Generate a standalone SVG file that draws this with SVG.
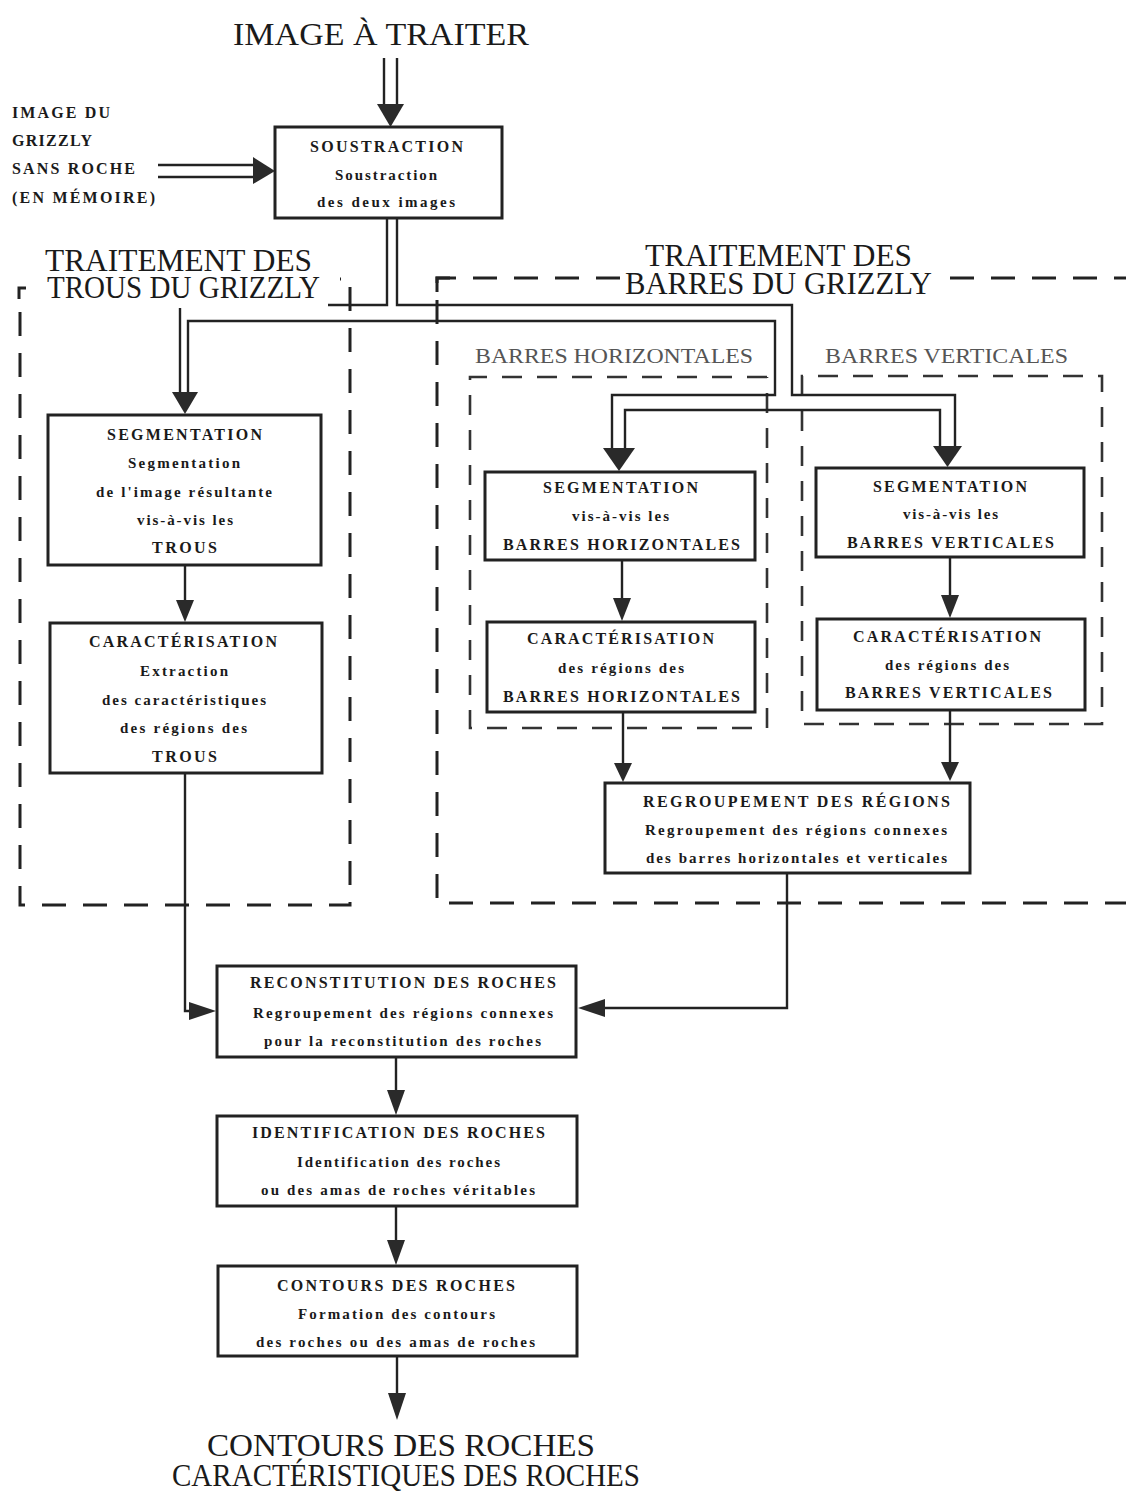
<svg xmlns="http://www.w3.org/2000/svg" width="1126" height="1494" viewBox="0 0 1126 1494">
<style>
.bg{fill:#ffffff}
.box{fill:#ffffff;stroke:#222;stroke-width:3}
.ln{fill:none;stroke:#222;stroke-width:2.4}
.ah{fill:#2a2a2a}
.dsh{fill:none;stroke:#222;stroke-width:3;stroke-dasharray:24 17}
.dsh2{fill:none;stroke:#333;stroke-width:2.6;stroke-dasharray:20 15}
.sol{fill:none;stroke:#222;stroke-width:3}
.ttl{font-family:"Liberation Serif",serif;font-size:32px;fill:#1a1a1a}
.cap{font-family:"Liberation Serif",serif;font-weight:bold;font-size:16px;fill:#1a1a1a}
.low{font-family:"Liberation Serif",serif;font-weight:bold;font-size:15px;fill:#1a1a1a}
.grey{font-family:"Liberation Serif",serif;font-size:22px;fill:#555}
</style>
<rect class="bg" x="0" y="0" width="1126" height="1494"/>

<g id="titles">
<text class="ttl" x="233" y="45" textLength="296" lengthAdjust="spacingAndGlyphs">IMAGE À TRAITER</text>
<text class="ttl" x="45" y="271" font-size="29" textLength="267" lengthAdjust="spacingAndGlyphs">TRAITEMENT DES</text>
<text class="ttl" x="47" y="298" font-size="29" textLength="273" lengthAdjust="spacingAndGlyphs">TROUS DU GRIZZLY</text>
<text class="ttl" x="645" y="266" font-size="29" textLength="267" lengthAdjust="spacingAndGlyphs">TRAITEMENT DES</text>
<text class="ttl" x="625" y="294" font-size="29" textLength="307" lengthAdjust="spacingAndGlyphs">BARRES DU GRIZZLY</text>
<text class="grey" x="475" y="363" textLength="278" lengthAdjust="spacingAndGlyphs">BARRES HORIZONTALES</text>
<text class="grey" x="825" y="363" textLength="243" lengthAdjust="spacingAndGlyphs">BARRES VERTICALES</text>
<text class="ttl" x="207" y="1456" font-size="32" textLength="388" lengthAdjust="spacingAndGlyphs">CONTOURS DES ROCHES</text>
<text class="ttl" x="172" y="1486" font-size="32" textLength="468" lengthAdjust="spacingAndGlyphs">CARACTÉRISTIQUES DES ROCHES</text>
</g>

<g id="input-memoire">
<text class="cap" x="12" y="118" textLength="98">IMAGE DU</text>
<text class="cap" x="12" y="146" textLength="80">GRIZZLY</text>
<text class="cap" x="12" y="174" textLength="123">SANS ROCHE</text>
<text class="cap" x="12" y="203" textLength="143">(EN MÉMOIRE)</text>
</g>

<g id="groupes">
<path class="sol" d="M26,288 L19,288 L19,299"/>
<path class="dsh" d="M20,312 L20,905 L350,905 L350,279 L340,279"/>
<path class="sol" d="M450,278 L437,278 L437,292"/>
<path class="dsh" d="M620,278 L437,278 L437,903 L1126,903"/>
<path class="dsh" d="M950,278 L1126,278"/>
<path class="dsh2" d="M767,377 L470,377 L470,728 L767,728 L767,377"/>
<path class="dsh2" d="M802,395 L802,376 L1102,376 L1102,724 L802,724 Z"/>
</g>

<g id="connecteurs">
<line class="ln" x1="384" y1="58" x2="384" y2="105"/>
<line class="ln" x1="397" y1="58" x2="397" y2="105"/>
<polygon class="ah" points="377,104 404,104 390.5,127"/>
<line class="ln" x1="158" y1="165" x2="255" y2="165"/>
<line class="ln" x1="158" y1="177" x2="255" y2="177"/>
<polygon class="ah" points="253,157 253,184 275,171"/>
<polyline class="ln" points="387,218 387,305 328,305"/>
<polyline class="ln" points="397,218 397,305 792,305 792,395 955,395 955,447"/>
<polyline class="ln" points="940,447 940,410 625,410 625,449"/>
<polyline class="ln" points="188,393 188,321 775,321 775,395 612,395 612,449"/>
<line class="ln" x1="180" y1="308" x2="180" y2="393"/>
<polygon class="ah" points="172,392 198,392 185,414"/>
<polygon class="ah" points="603,448 635,448 619,471"/>
<polygon class="ah" points="933,446 962,446 947.5,467"/>
<line class="ln" x1="185" y1="565" x2="185" y2="602"/>
<polygon class="ah" points="176,600 194,600 185,622"/>
<polyline class="ln" points="185,773 185,1011 190,1011"/>
<polygon class="ah" points="189,1002 189,1020 216,1011"/>
<line class="ln" x1="622" y1="560" x2="622" y2="600"/>
<polygon class="ah" points="613,598 631,598 622,621"/>
<line class="ln" x1="623" y1="712" x2="623" y2="765"/>
<polygon class="ah" points="614,763 632,763 623,782"/>
<line class="ln" x1="950" y1="557" x2="950" y2="597"/>
<polygon class="ah" points="941,595 959,595 950,618"/>
<line class="ln" x1="950" y1="710" x2="950" y2="764"/>
<polygon class="ah" points="941,762 959,762 950,781"/>
<polyline class="ln" points="787,873 787,1008 603,1008"/>
<polygon class="ah" points="605,999 605,1017 578,1008"/>
<line class="ln" x1="396" y1="1057" x2="396" y2="1092"/>
<polygon class="ah" points="387,1090 405,1090 396,1115"/>
<line class="ln" x1="396" y1="1206" x2="396" y2="1242"/>
<polygon class="ah" points="387,1240 405,1240 396,1265"/>
<line class="ln" x1="397" y1="1356" x2="397" y2="1395"/>
<polygon class="ah" points="388,1393 406,1393 397,1420"/>
</g>

<g id="soustraction">
<rect class="box" x="275" y="127" width="227" height="91"/>
<text class="cap" x="310" y="152" textLength="153">SOUSTRACTION</text>
<text class="low" x="335" y="180" textLength="102">Soustraction</text>
<text class="low" x="317" y="207" textLength="138">des deux images</text>
</g>

<g id="segmentation-trous">
<rect class="box" x="48" y="415" width="273" height="150"/>
<text class="cap" x="107" y="440" textLength="155">SEGMENTATION</text>
<text class="low" x="128" y="468" textLength="112">Segmentation</text>
<text class="low" x="96" y="497" textLength="176">de l'image résultante</text>
<text class="low" x="137" y="525" textLength="96">vis-à-vis les</text>
<text class="cap" x="152" y="553" textLength="65">TROUS</text>
</g>

<g id="caracterisation-trous">
<rect class="box" x="50" y="623" width="272" height="150"/>
<text class="cap" x="89" y="647" textLength="188">CARACTÉRISATION</text>
<text class="low" x="140" y="676" textLength="88">Extraction</text>
<text class="low" x="102" y="705" textLength="164">des caractéristiques</text>
<text class="low" x="120" y="733" textLength="127">des régions des</text>
<text class="cap" x="152" y="762" textLength="65">TROUS</text>
</g>

<g id="segmentation-bh">
<rect class="box" x="485" y="472" width="270" height="88"/>
<text class="cap" x="543" y="493" textLength="155">SEGMENTATION</text>
<text class="low" x="572" y="521" textLength="97">vis-à-vis les</text>
<text class="cap" x="503" y="550" textLength="237">BARRES HORIZONTALES</text>
</g>

<g id="caracterisation-bh">
<rect class="box" x="487" y="622" width="268" height="90"/>
<text class="cap" x="527" y="644" textLength="187">CARACTÉRISATION</text>
<text class="low" x="558" y="673" textLength="126">des régions des</text>
<text class="cap" x="503" y="702" textLength="237">BARRES HORIZONTALES</text>
</g>

<g id="segmentation-bv">
<rect class="box" x="816" y="468" width="268" height="89"/>
<text class="cap" x="873" y="492" textLength="154">SEGMENTATION</text>
<text class="low" x="903" y="519" textLength="95">vis-à-vis les</text>
<text class="cap" x="847" y="548" textLength="207">BARRES VERTICALES</text>
</g>

<g id="caracterisation-bv">
<rect class="box" x="817" y="619" width="268" height="91"/>
<text class="cap" x="853" y="642" textLength="188">CARACTÉRISATION</text>
<text class="low" x="885" y="670" textLength="124">des régions des</text>
<text class="cap" x="845" y="698" textLength="207">BARRES VERTICALES</text>
</g>

<g id="regroupement">
<rect class="box" x="605" y="783" width="365" height="90"/>
<text class="cap" x="643" y="807" textLength="307">REGROUPEMENT DES RÉGIONS</text>
<text class="low" x="645" y="835" textLength="302">Regroupement des régions connexes</text>
<text class="low" x="646" y="863" textLength="301">des barres horizontales et verticales</text>
</g>

<g id="reconstitution">
<rect class="box" x="217" y="966" width="359" height="91"/>
<text class="cap" x="250" y="988" textLength="306">RECONSTITUTION DES ROCHES</text>
<text class="low" x="253" y="1018" textLength="300">Regroupement des régions connexes</text>
<text class="low" x="264" y="1046" textLength="277">pour la reconstitution des roches</text>
</g>

<g id="identification">
<rect class="box" x="217" y="1116" width="360" height="90"/>
<text class="cap" x="252" y="1138" textLength="293">IDENTIFICATION DES ROCHES</text>
<text class="low" x="297" y="1167" textLength="203">Identification des roches</text>
<text class="low" x="261" y="1195" textLength="274">ou des amas de roches véritables</text>
</g>

<g id="contours">
<rect class="box" x="218" y="1266" width="359" height="90"/>
<text class="cap" x="277" y="1291" textLength="238">CONTOURS DES ROCHES</text>
<text class="low" x="298" y="1319" textLength="197">Formation des contours</text>
<text class="low" x="256" y="1347" textLength="279">des roches ou des amas de roches</text>
</g>
</svg>
